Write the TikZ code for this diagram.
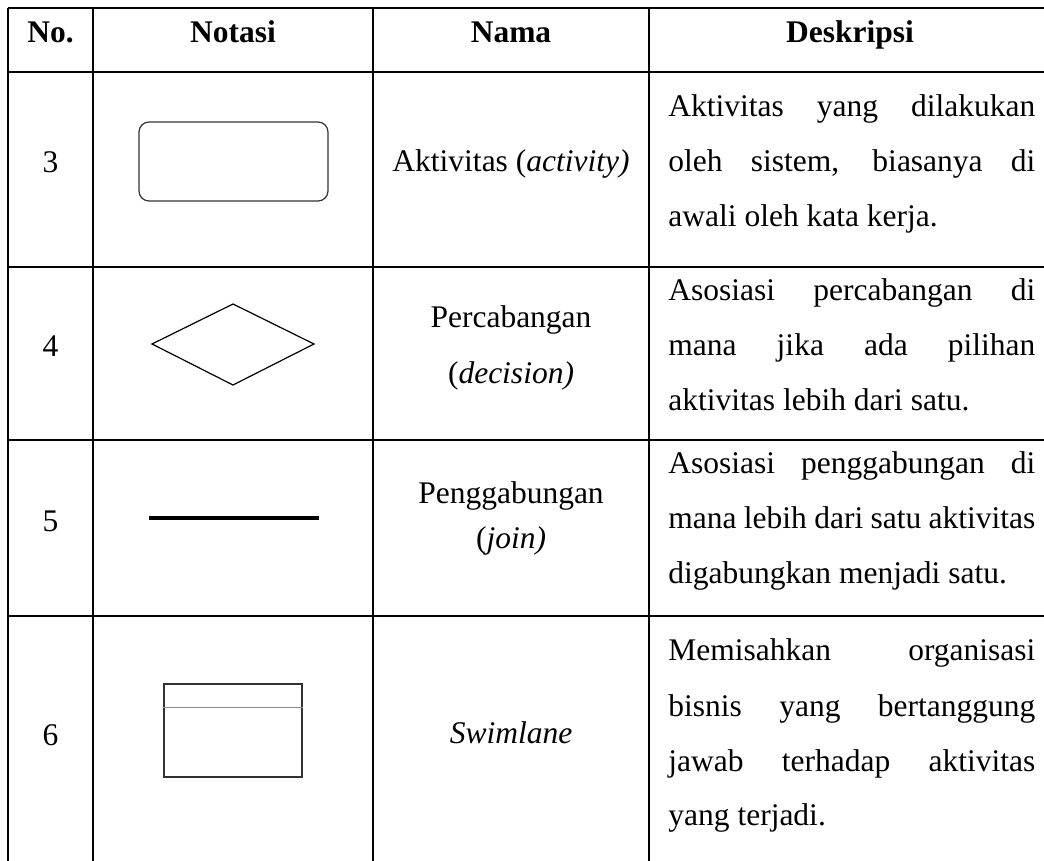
\documentclass[tikz,border=0pt]{standalone}
\usepackage{fontspec}
\setmainfont{Liberation Serif}
\usetikzlibrary{positioning}
\newcommand{\descline}[1]{\makebox[183.5pt][s]{#1}}

\begin{document}
\begin{tikzpicture}[x=0.5pt,y=-0.5pt,font=\fontsize{15.75}{18}\selectfont]
\useasboundingbox (0,0) rectangle (1044,861);

\begin{scope}[line width=0.8pt]
    \draw (8,8) -- (1044,8);
    \draw (8,72) -- (1044,72);
    \draw (8,267) -- (1044,267);
    \draw (8,440) -- (1044,440);
    \draw (8,616) -- (1044,616);

    \draw (8,8) -- (8,861);
    \draw (93,8) -- (93,861);
    \draw (373,8) -- (373,861);
    \draw (649,8) -- (649,861);
\end{scope}

\begin{scope}[every node/.style={anchor=base,inner sep=0pt,font=\fontsize{15.75}{18}\selectfont\bfseries}]
    \node (hNo) at (50.5,43) {No.};
    \node (hNotasi) at (233,43) {Notasi};
    \node (hNama) at (511,43) {Nama};
    \node (hDesk) at (850,43) {Deskripsi};
\end{scope}

\begin{scope}[every node/.style={anchor=base,inner sep=0pt}]
    \node (no3) at (50.5,173) {3};
    \node (no4) at (50.5,357) {4};
    \node (no5) at (50.5,531) {5};
    \node (no6) at (50.5,745) {6};

    \node (nama3) at (511,172) {Aktivitas (\textit{activity)}};
    \node (nama4a) at (511,328) {Percabangan};
    \node (nama4b) at (511,383) {(\textit{decision)}};
    \node (nama5a) at (511,503) {Penggabungan};
    \node (nama5b) at (511,548) {(\textit{join)}};
    \node (nama6) at (511,743) {\textit{Swimlane}};
\end{scope}

\begin{scope}[every node/.style={anchor=base west,inner sep=0pt}]
    \node (d3a) at (668,117) {\descline{Aktivitas yang dilakukan}};
    \node (d3b) at (668,172) {\descline{oleh sistem, biasanya di}};
    \node (d3c) at (668,227) {awali oleh kata kerja.};

    \node (d4a) at (668,300) {\descline{Asosiasi percabangan di}};
    \node (d4b) at (668,356) {\descline{mana jika ada pilihan}};
    \node (d4c) at (668,410) {aktivitas lebih dari satu.};

    \node (d5a) at (668,473) {\descline{Asosiasi penggabungan di}};
    \node (d5b) at (668,528) {\descline{mana lebih dari satu aktivitas}};
    \node (d5c) at (668,583) {digabungkan menjadi satu.};

    \node (d6a) at (668,660) {\descline{Memisahkan organisasi}};
    \node (d6b) at (668,716) {\descline{bisnis yang bertanggung}};
    \node (d6c) at (668,771) {\descline{jawab terhadap aktivitas}};
    \node (d6d) at (668,825) {yang terjadi.};
\end{scope}

\node [draw=black!80,line width=0.6pt,rounded corners=5pt,minimum width=94.5pt,minimum height=39.5pt] (activity) at (233.5,161.5) {};

\draw [line width=0.6pt] (152,344) -- (233,304) -- (314,344) -- (233,385) -- cycle;

\draw [line width=2pt] (149,518) -- (319,518);

\node [draw=black!80,line width=0.6pt,minimum width=69pt,minimum height=46.5pt] (swim) at (233,730.5) {};
\draw [black!45,line width=0.6pt] ([yshift=-12pt]swim.north west) -- ([yshift=-12pt]swim.north east);

\end{tikzpicture}
\end{document}
